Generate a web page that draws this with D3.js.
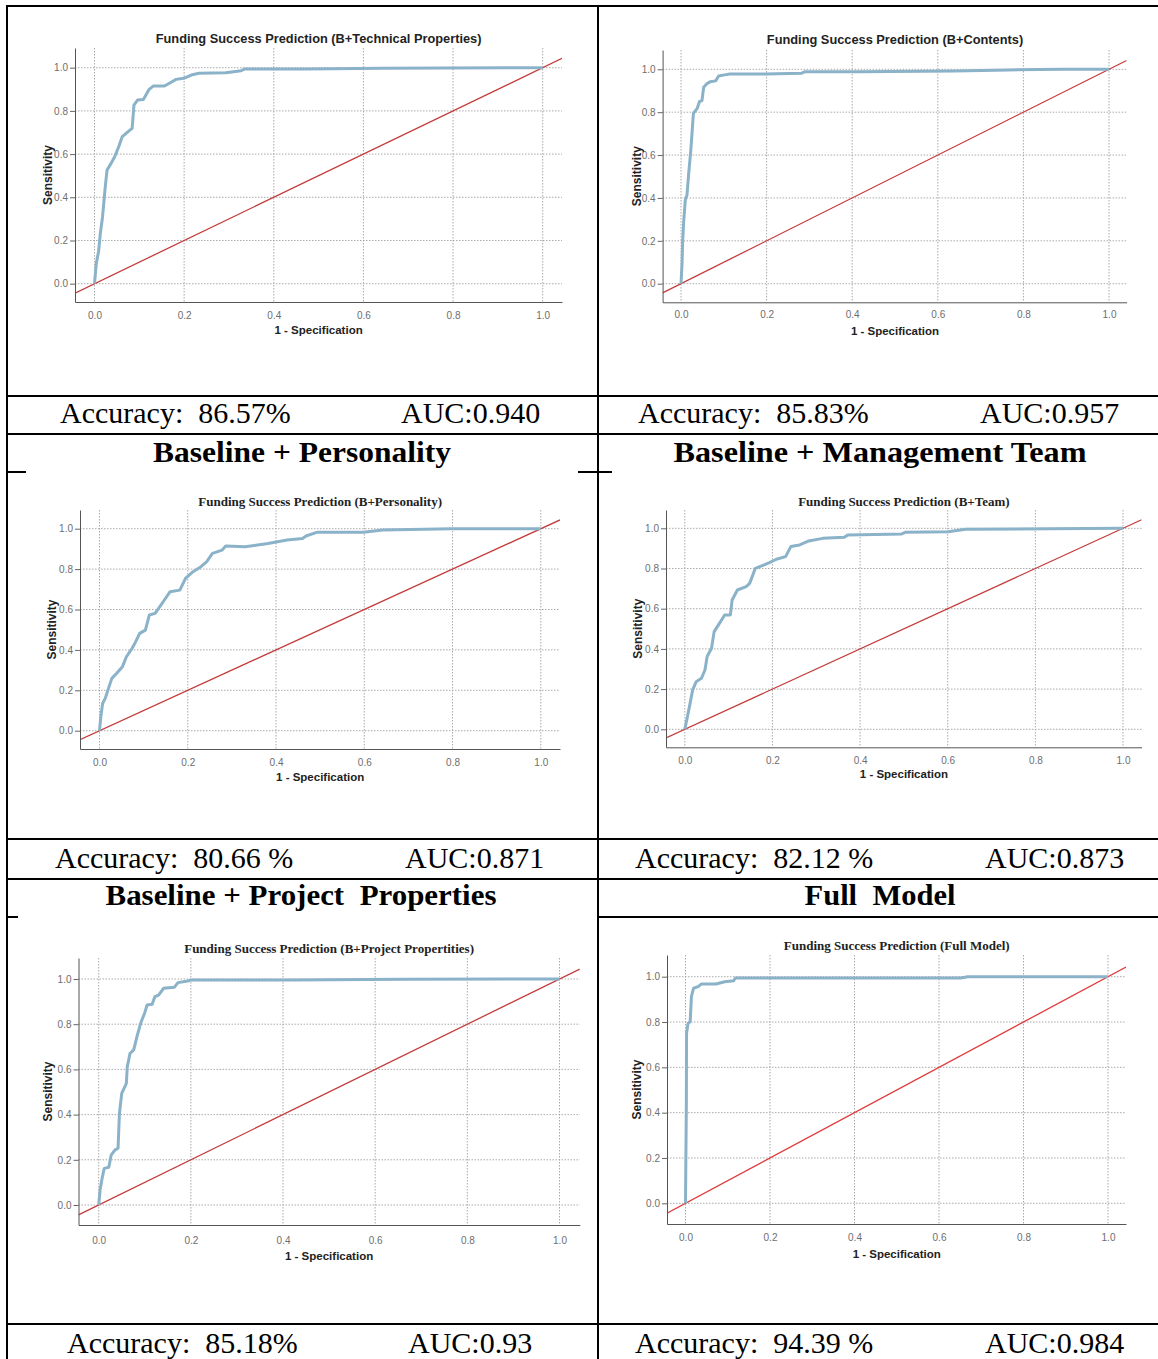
<!DOCTYPE html>
<html>
<head>
<meta charset="utf-8">
<script src="https://cdn.jsdelivr.net/npm/d3@7"></script>
<style>
body{ margin:0; background:#fff; }
svg{ display:block; }
</style>
</head>
<body>
<svg id="fig" width="1158" height="1359"></svg>
<script>

// ROC curves: [1 - specificity, sensitivity]
const rocTechnical = [[0,0],[0.004,0.094],[0.009,0.148],[0.013,0.233],[0.018,0.31],[0.024,0.449],[0.028,0.526],
    [0.037,0.557],[0.045,0.588],[0.054,0.634],[0.062,0.681],[0.075,0.704],[0.084,0.719],[0.088,0.827],[0.096,0.85],
    [0.109,0.853],[0.122,0.9],[0.131,0.915],[0.156,0.915],[0.173,0.935],[0.182,0.946],[0.199,0.951],[0.216,0.966],
    [0.233,0.974],[0.293,0.977],[0.327,0.986],[0.336,0.994],[0.472,0.994],[0.643,0.998],[1,1]];

const rocContents = [[0,0],[0.0025,0.095],[0.004,0.204],[0.006,0.281],[0.01,0.39],[0.014,0.414],[0.018,0.515],
    [0.023,0.624],[0.029,0.795],[0.038,0.818],[0.043,0.849],[0.049,0.854],[0.053,0.916],[0.06,0.932],[0.068,0.942],
    [0.081,0.946],[0.088,0.969],[0.102,0.974],[0.114,0.978],[0.198,0.978],[0.281,0.981],[0.29,0.989],[0.415,0.989],
    [0.64,0.992],[0.765,0.997],[0.891,1],[1,1]];

const rocPersonality = [[0,0],[0.003,0.069],[0.007,0.135],[0.013,0.16],[0.019,0.201],[0.028,0.259],[0.039,0.284],
    [0.052,0.317],[0.061,0.366],[0.074,0.408],[0.082,0.441],[0.091,0.482],[0.104,0.498],[0.113,0.573],[0.126,0.581],
    [0.134,0.606],[0.147,0.647],[0.16,0.688],[0.182,0.696],[0.195,0.754],[0.212,0.787],[0.23,0.812],[0.243,0.837],
    [0.256,0.878],[0.278,0.894],[0.286,0.914],[0.33,0.911],[0.382,0.927],[0.425,0.944],[0.46,0.952],[0.468,0.964],
    [0.494,0.983],[0.598,0.983],[0.642,0.993],[0.798,1],[1,1]];

const rocTeam = [[0,0],[0.006,0.063],[0.012,0.129],[0.018,0.196],[0.026,0.237],[0.038,0.254],[0.046,0.295],
    [0.051,0.362],[0.061,0.403],[0.067,0.486],[0.079,0.527],[0.091,0.569],[0.104,0.569],[0.108,0.643],[0.12,0.693],
    [0.14,0.71],[0.148,0.726],[0.161,0.801],[0.181,0.818],[0.193,0.829],[0.209,0.846],[0.23,0.859],[0.242,0.909],
    [0.262,0.917],[0.283,0.937],[0.315,0.95],[0.364,0.955],[0.372,0.967],[0.495,0.972],[0.503,0.98],[0.601,0.983],
    [0.641,0.995],[1,1]];

const rocProject = [[0,0],[0.003,0.066],[0.008,0.125],[0.012,0.162],[0.022,0.167],[0.027,0.221],[0.035,0.243],
    [0.042,0.251],[0.045,0.406],[0.05,0.494],[0.06,0.538],[0.062,0.612],[0.068,0.671],[0.076,0.686],[0.083,0.745],
    [0.091,0.804],[0.1,0.851],[0.105,0.885],[0.116,0.888],[0.122,0.922],[0.13,0.929],[0.141,0.959],[0.164,0.963],
    [0.172,0.984],[0.193,0.991],[0.201,0.996],[0.417,0.996],[0.666,0.999],[1,1]];

const rocFull = [[0,0],[0.002,0.441],[0.0025,0.75],[0.006,0.794],[0.011,0.801],[0.014,0.912],[0.019,0.949],
    [0.03,0.956],[0.038,0.968],[0.072,0.968],[0.093,0.978],[0.114,0.982],[0.118,0.994],[0.651,0.994],[0.668,1],[1,1]];

const panelTitles = ["Funding Success Prediction (B+Technical Properties)",
                     "Funding Success Prediction (B+Contents)",
                     "Funding Success Prediction (B+Personality)",
                     "Funding Success Prediction (B+Team)",
                     "Funding Success Prediction (B+Project Propertities)",
                     "Funding Success Prediction (Full Model)"];

const rowHeaders = ["Baseline + Personality", "Baseline + Management Team",
                    "Baseline + Project  Properties", "Full  Model"];

const accuracyLabels = ["86.57%", "85.83%", "80.66 %", "82.12 %", "85.18%", "94.39 %"];
const aucLabels = ["0.940", "0.957", "0.871", "0.873", "0.93", "0.984"];

const tickValues = [0, 0.2, 0.4, 0.6, 0.8, 1.0];


// where each SPSS panel sits on the page
let panels = [
  { roc: rocTechnical, left:75, right:562, top:48, bottom:302, x0:94.5, x1:542.7, y0:283.7, y1:67.7,
    titleY:39, tickY:315, xlabY:330, ylabX:48, serif:false, red:"#c43c3c" },
  { roc: rocContents, left:662.6, right:1126.6, top:50, bottom:302.3, x0:681, x1:1109, y0:283.7, y1:69.3,
    titleY:40, tickY:315, xlabY:331, ylabX:637, serif:false, red:"#c43c3c" },
  { roc: rocPersonality, left:80, right:560, top:510, bottom:749, x0:99.5, x1:540.8, y0:730.7, y1:528.7,
    titleY:501, tickY:762.5, xlabY:776.5, ylabX:51.5, serif:true, red:"#c43c3c" },
  { roc: rocTeam, left:666, right:1141.6, top:510, bottom:747.3, x0:684.8, x1:1123, y0:729.3, y1:528.3,
    titleY:501, tickY:760.5, xlabY:774, ylabX:638, serif:true, red:"#c43c3c" },
  { roc: rocProject, left:78.5, right:579.8, top:958, bottom:1225, x0:98.7, x1:559.5, y0:1205, y1:979,
    titleY:948, tickY:1240, xlabY:1255.5, ylabX:48, serif:true, red:"#c43c3c" },
  { roc: rocFull, left:667, right:1126, top:955, bottom:1224, x0:685.5, x1:1108, y0:1203.3, y1:976.7,
    titleY:945, tickY:1237.5, xlabY:1254, ylabX:637, serif:true, red:"#e03a3a" }
];


function draw_panel( svg, p, idx ){
    let g = svg.append("g");

    let x = d3.scaleLinear().domain([0,1]).range([p.x0, p.x1]);
    let y = d3.scaleLinear().domain([0,1]).range([p.y0, p.y1]);
    // same mapping, stretched to the full plot box (SPSS pads the range)
    let xa = d3.scaleLinear().domain([x.invert(p.left), x.invert(p.right)]).range([p.left, p.right]);
    let ya = d3.scaleLinear().domain([y.invert(p.bottom), y.invert(p.top)]).range([p.bottom, p.top]);

    let clipId = "clip" + idx;
    g.append("clipPath").attr("id", clipId)
      .append("rect")
        .attr("x", p.left).attr("y", p.top)
        .attr("width", p.right - p.left).attr("height", p.bottom - p.top);

    // dotted grid
    g.append("g").selectAll("line")
        .data(tickValues)
        .enter().append("line")
            .attr("x1", d => x(d)).attr("x2", d => x(d))
            .attr("y1", p.top).attr("y2", p.bottom)
            .attr("stroke", "#aaa")
            .attr("stroke-dasharray", "1.5,1.5");
    g.append("g").selectAll("line")
        .data(tickValues)
        .enter().append("line")
            .attr("x1", p.left).attr("x2", p.right)
            .attr("y1", d => y(d)).attr("y2", d => y(d))
            .attr("stroke", "#aaa")
            .attr("stroke-dasharray", "1.5,1.5");

    let line = d3.line().x(d => x(d[0])).y(d => y(d[1]));

    // reference diagonal over the whole box
    let dom = xa.domain();
    g.append("path")
        .datum([[dom[0], dom[0]], [dom[1], dom[1]]])
        .attr("clip-path", "url(#" + clipId + ")")
        .attr("d", line)
        .attr("fill", "none")
        .attr("stroke", p.red)
        .attr("stroke-width", 1.3);

    g.append("path")
        .datum(p.roc)
        .attr("d", line)
        .attr("fill", "none")
        .attr("stroke", "#8ab2c8")
        .attr("stroke-width", 3)
        .attr("stroke-linejoin", "round");

    // axes
    let yAxis = g.append("g")
        .attr("transform", "translate(" + p.left + ",0)")
        .call(d3.axisLeft(ya).tickValues(tickValues).tickSize(5).tickSizeOuter(0)
                .tickPadding(2).tickFormat(d3.format(".1f")));
    let xAxis = g.append("g")
        .attr("transform", "translate(0," + p.bottom + ")")
        .call(d3.axisBottom(xa).tickValues(tickValues).tickSize(0).tickSizeOuter(0)
                .tickPadding(p.tickY - p.bottom - 3.6).tickFormat(d3.format(".1f")));

    [yAxis, xAxis].forEach( function(a){
        a.attr("font-family", "Arial, 'Liberation Sans'").attr("font-size", 10);
        a.select(".domain").attr("stroke", "#555");
        a.selectAll(".tick line").attr("stroke", "#666");
        a.selectAll(".tick text").attr("fill", "#6e6e6e");
    });

    g.append("text")
        .attr("x", x(0.5)).attr("y", p.titleY)
        .attr("dy", ".35em")
        .attr("text-anchor", "middle")
        .attr("font-family", p.serif ? "'Liberation Serif', 'Times New Roman'" : "Arial, 'Liberation Sans'")
        .attr("font-weight", "bold")
        .attr("font-size", p.serif ? 13 : 12.8)
        .attr("fill", "#222")
        .text( panelTitles[idx] );

    g.append("text")
        .attr("x", x(0.5)).attr("y", p.xlabY)
        .attr("dy", ".35em")
        .attr("text-anchor", "middle")
        .attr("font-family", "Arial, 'Liberation Sans'")
        .attr("font-weight", "bold")
        .attr("font-size", 11.5)
        .attr("fill", "#222")
        .text("1 - Specification");

    g.append("text")
        .attr("transform", "translate(" + p.ylabX + "," + ((p.top + p.bottom) / 2) + ") rotate(-90)")
        .attr("dy", ".35em")
        .attr("text-anchor", "middle")
        .attr("font-family", "Arial, 'Liberation Sans'")
        .attr("font-weight", "bold")
        .attr("font-size", 12)
        .attr("fill", "#222")
        .text("Sensitivity");
}


let svg = d3.select("#fig");
svg.append("rect").attr("width", 1158).attr("height", 1359).attr("fill", "#fff");

panels.forEach( function(p, i){ draw_panel(svg, p, i); });


// table rules of the page
let rules = [
    [7, 6, 1158, 6], [7, 5, 7, 1359], [598, 6, 598, 1359],
    [7, 396, 1158, 396], [7, 434, 1158, 434],
    [7, 472, 26, 472], [578, 472, 612, 472],
    [7, 839, 1158, 839], [7, 879, 1158, 879],
    [7, 917, 18, 917], [598, 917, 1158, 917],
    [7, 1324, 1158, 1324]
];
svg.append("g").selectAll("line")
    .data(rules)
    .enter().append("line")
        .attr("x1", d => d[0]).attr("y1", d => d[1])
        .attr("x2", d => d[2]).attr("y2", d => d[3])
        .attr("stroke", "#000")
        .attr("stroke-width", 2);


// accuracy / AUC rows
let accX = [60, 638, 55, 635, 67, 635];
let aucX = [401, 980, 405, 985, 408, 985];
let rowY = [423, 423, 868, 868, 1353, 1353];

let tg = svg.append("g")
    .attr("font-family", "'Liberation Serif', 'Times New Roman', serif")
    .attr("font-size", 30)
    .attr("fill", "#000");

accuracyLabels.forEach( function(a, i){
    tg.append("text")
        .attr("x", accX[i]).attr("y", rowY[i])
        .style("white-space", "pre")
        .text("Accuracy:  " + a);
    tg.append("text")
        .attr("x", aucX[i]).attr("y", rowY[i])
        .text("AUC:" + aucLabels[i]);
});

// section headers
let headX = [302, 880, 301, 880];
let headY = [462, 462, 905, 905];
let headW = [298, 413, 391, 151];
rowHeaders.forEach( function(h, i){
    tg.append("text")
        .attr("x", headX[i] - headW[i] / 2).attr("y", headY[i])
        .attr("font-weight", "bold")
        .attr("font-size", 29)
        .attr("textLength", headW[i])
        .attr("lengthAdjust", "spacingAndGlyphs")
        .style("white-space", "pre")
        .text(h);
});

</script>
</body>
</html>
